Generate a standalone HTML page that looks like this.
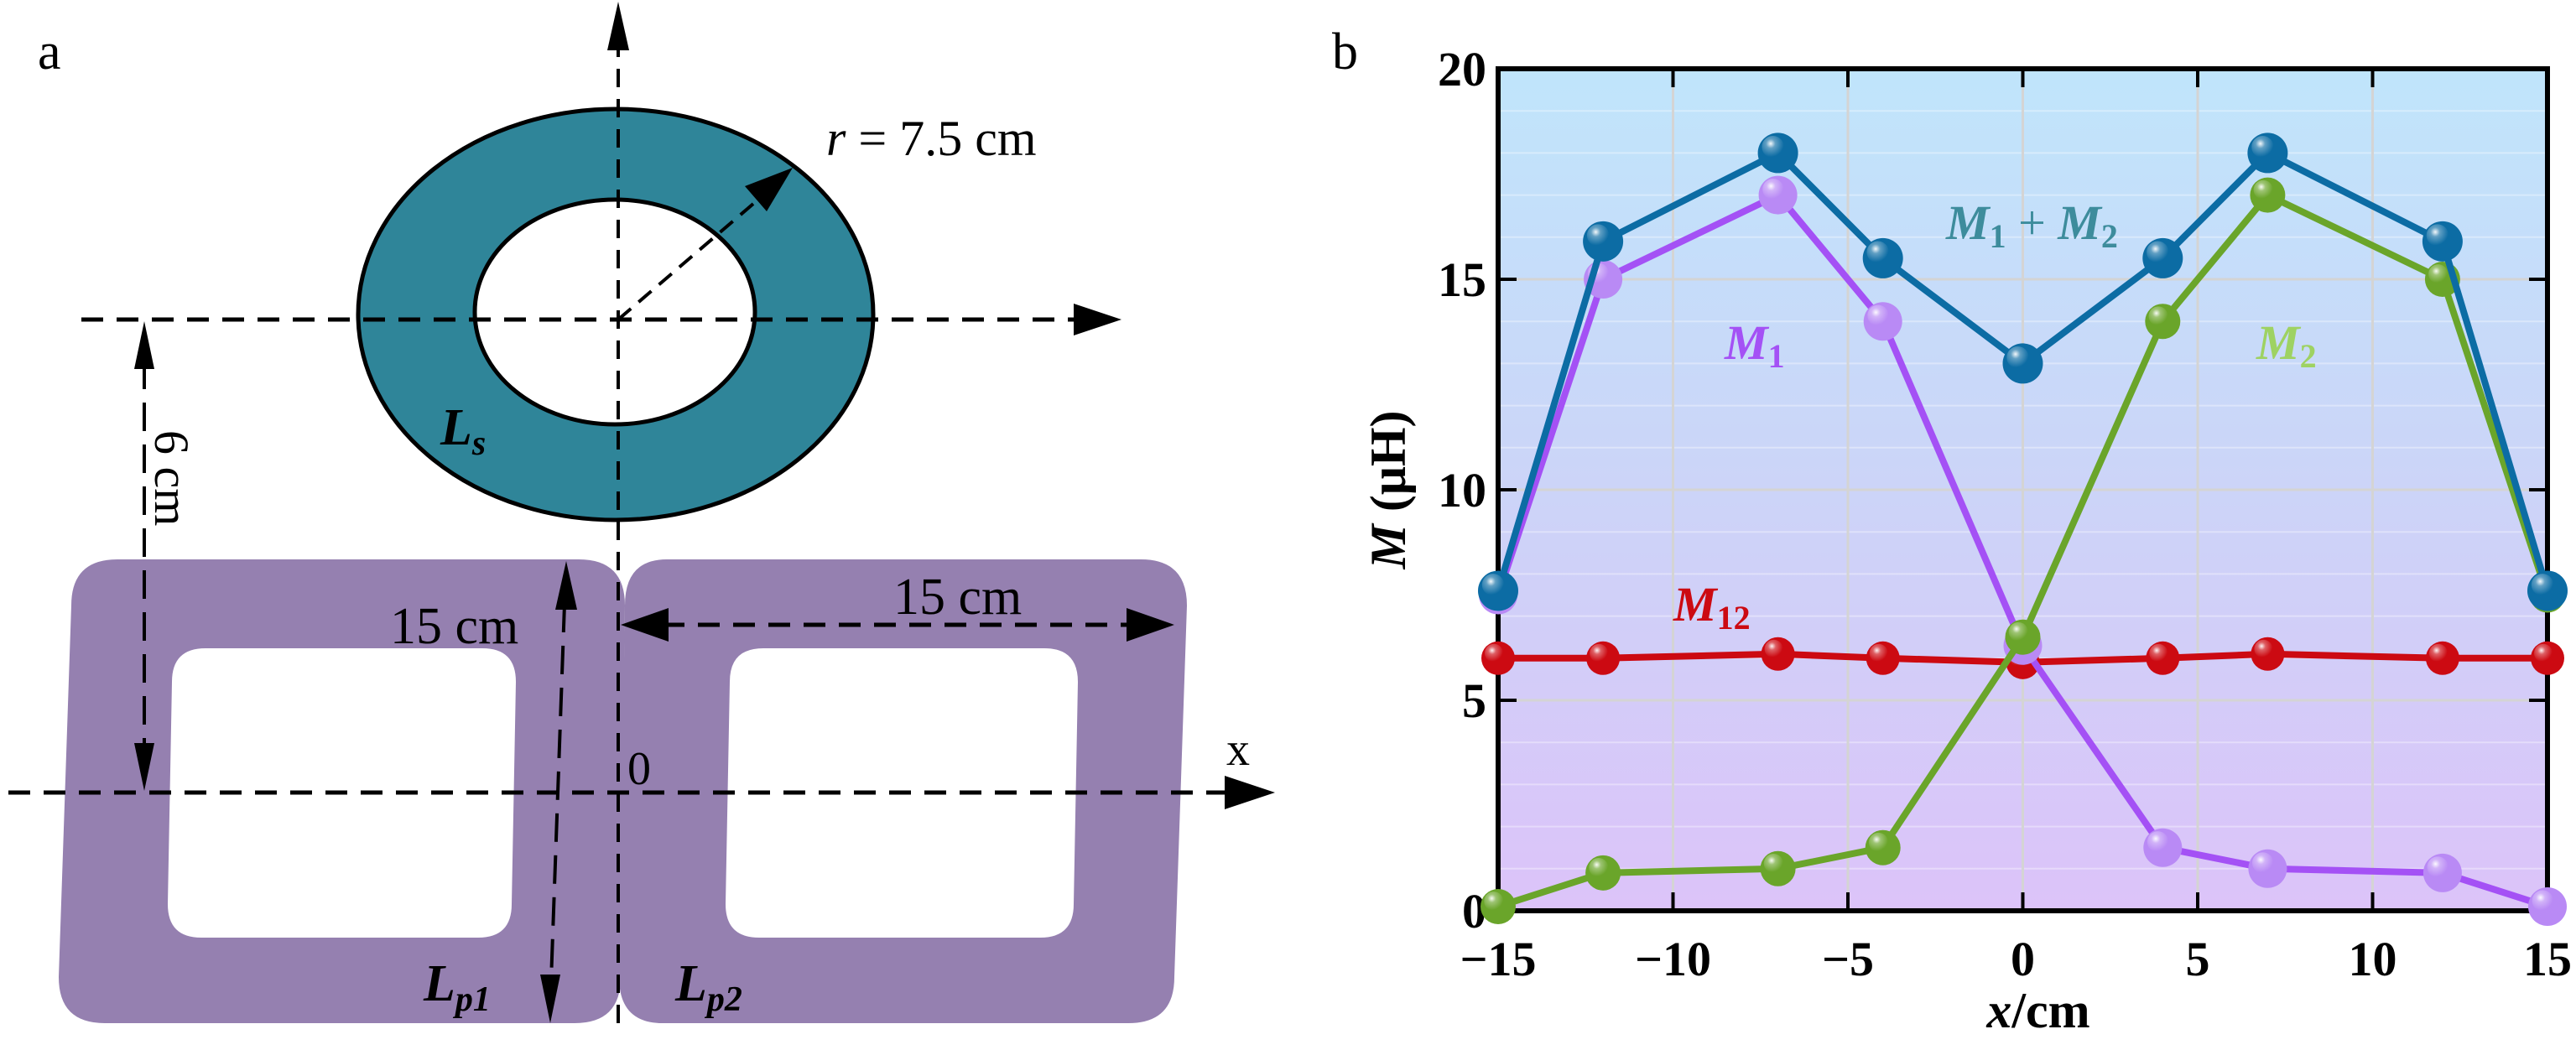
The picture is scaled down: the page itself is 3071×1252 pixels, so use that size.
<!DOCTYPE html>
<html><head><meta charset="utf-8"><style>
html,body{margin:0;padding:0;background:#fff;}
svg{display:block;font-family:"Liberation Serif",serif;}
</style></head><body>
<svg id="fig" width="3071" height="1252" viewBox="0 0 3071 1252" xmlns="http://www.w3.org/2000/svg">
<defs>
  <linearGradient id="bg" x1="0" y1="0" x2="0" y2="1">
    <stop offset="0" stop-color="#c0e5fb"/>
    <stop offset="0.5" stop-color="#ccd4f8"/>
    <stop offset="1" stop-color="#dcc3f9"/>
  </linearGradient>
  <radialGradient id="shine" cx="0.4" cy="0.35" r="0.6">
    <stop offset="0" stop-color="#fff" stop-opacity="0.95"/>
    <stop offset="0.35" stop-color="#fff" stop-opacity="0.35"/>
    <stop offset="1" stop-color="#fff" stop-opacity="0"/>
  </radialGradient>
</defs>

<!-- Panel a -->
<g>
  <text x="45" y="82" font-size="62">a</text>
  <path fill="#9580b0" fill-rule="evenodd"
    d="M140,667 L690,667 Q745,667 745,722 L740,1165 Q740,1220 685,1220 L125,1220 Q70,1220 70,1165 L85,722 Q85,667 140,667 Z
       M250,773 L575,773 Q615,773 615,813 L610,1078 Q610,1118 570,1118 L240,1118 Q200,1118 200,1078 L205,813 Q205,773 245,773 Z"/>
  <path fill="#9580b0" fill-rule="evenodd"
    d="M795,667 L1360,667 Q1415,667 1415,722 L1400,1165 Q1400,1220 1345,1220 L790,1220 Q738,1220 738,1165 L745,722 Q745,667 795,667 Z
       M915,773 L1245,773 Q1285,773 1285,813 L1280,1078 Q1280,1118 1240,1118 L905,1118 Q865,1118 865,1078 L870,813 Q870,773 910,773 Z"/>
  <path fill="#2f8599" stroke="#000" stroke-width="5" fill-rule="evenodd"
    d="M427,375 A307,245 0 1,0 1041,375 A307,245 0 1,0 427,375 Z M566,372 A167,134 0 1,1 900,372 A167,134 0 1,1 566,372 Z"/>
  <line x1="737" y1="1220" x2="737" y2="30" stroke="#000" stroke-width="4" stroke-dasharray="22,14"/>
  <path d="M737,2 L724,60 L750,60 Z" fill="#000"/>
  <line x1="97" y1="381" x2="1290" y2="381" stroke="#000" stroke-width="5" stroke-dasharray="26,16"/>
  <path d="M1337,381 L1280,362 L1280,400 Z" fill="#000"/>
  <line x1="10" y1="945" x2="1470" y2="945" stroke="#000" stroke-width="5" stroke-dasharray="26,16"/>
  <path d="M1520,945 L1460,925 L1460,965 Z" fill="#000"/>
  <text x="1462" y="912" font-size="56">x</text>
  <text x="748" y="935" font-size="56">0</text>
  <line x1="737" y1="381" x2="905" y2="237" stroke="#000" stroke-width="4" stroke-dasharray="20,12"/>
  <path d="M945,200 L888,222 L914,252 Z" fill="#000"/>
  <text x="985" y="185" font-size="60"><tspan font-style="italic">r</tspan> = 7.5 cm</text>
  <text x="525" y="530" font-size="62" font-weight="bold" font-style="italic">L<tspan font-size="42" dy="12">s</tspan></text>
  <line x1="172" y1="430" x2="172" y2="895" stroke="#000" stroke-width="4" stroke-dasharray="34,16"/>
  <path d="M172,383 L160,440 L184,440 Z" fill="#000"/>
  <path d="M172,943 L160,886 L184,886 Z" fill="#000"/>
  <text x="0" y="0" font-size="58" transform="translate(185,513) rotate(90)">6 cm</text>
  <line x1="673" y1="720" x2="657" y2="1170" stroke="#000" stroke-width="4" stroke-dasharray="34,16"/>
  <path d="M675,669 L662,727 L688,727 Z" fill="#000"/>
  <path d="M656,1220 L644,1162 L668,1162 Z" fill="#000"/>
  <text x="465" y="767" font-size="62">15 cm</text>
  <line x1="790" y1="745" x2="1350" y2="745" stroke="#000" stroke-width="5" stroke-dasharray="26,16"/>
  <path d="M740,745 L797,725 L797,765 Z" fill="#000"/>
  <path d="M1400,745 L1343,725 L1343,765 Z" fill="#000"/>
  <text x="1065" y="732" font-size="62">15 cm</text>
  <text x="505" y="1193" font-size="62" font-weight="bold" font-style="italic">L<tspan font-size="42" dy="12">p1</tspan></text>
  <text x="805" y="1193" font-size="62" font-weight="bold" font-style="italic">L<tspan font-size="42" dy="12">p2</tspan></text>
</g>

<text x="1588" y="82" font-size="62">b</text>
<g id="chart"></g>
</svg>
<script>
const xValues = [-15, -12, -7, -4, 0, 4, 7, 12, 15];
const sumValues = [7.6, 15.9, 18.0, 15.5, 13.0, 15.5, 18.0, 15.9, 7.6];
const m1Values = [7.5, 15.0, 17.0, 14.0, 6.3, 1.5, 1.0, 0.9, 0.1];
const m2Values = [0.1, 0.9, 1.0, 1.5, 6.5, 14.0, 17.0, 15.0, 7.5];
const m12Values = [6.0, 6.0, 6.1, 6.0, 5.9, 6.0, 6.1, 6.0, 6.0];
const xTicks = [-15, -10, -5, 0, 5, 10, 15];
const xTickLabels = ["\u221215", "\u221210", "\u22125", "0", "5", "10", "15"];
const yTicks = [0, 5, 10, 15, 20];
const yTickLabels = ["0", "5", "10", "15", "20"];

const NS = "http://www.w3.org/2000/svg";
const L = 1786, R = 3037, T = 82, B = 1086;
const xMin = -15, xMax = 15, yMin = 0, yMax = 20;
function sx(v){ return L + (v - xMin) / (xMax - xMin) * (R - L); }
function sy(v){ return B - (v - yMin) / (yMax - yMin) * (B - T); }
const g = document.getElementById('chart');
function mk(tag, attrs, parent){
  const e = document.createElementNS(NS, tag);
  for (const k in attrs) e.setAttribute(k, attrs[k]);
  (parent || g).appendChild(e);
  return e;
}
let e;
e = mk('rect', {x:L, y:T, width:R-L, height:B-T, fill:'url(#bg)'});


for (let k = 1; k < 20; k++) {
  e = mk('line', {x1:L, x2:R, y1:sy(k), y2:sy(k), stroke:'#ffffff', 'stroke-opacity':0.35, 'stroke-width':2});
  
  
}
xTicks.forEach(t => {
  e = mk('line', {x1:sx(t), x2:sx(t), y1:T, y2:B, stroke:'#d4d4d4', 'stroke-width':3});
  
  
});
yTicks.forEach(t => {
  e = mk('line', {x1:L, x2:R, y1:sy(t), y2:sy(t), stroke:'#d4d4d4', 'stroke-width':3});
  
  
});
xTicks.forEach((t, i) => {
  e = mk('line', {x1:sx(t), x2:sx(t), y1:B, y2:B-22, stroke:'#000', 'stroke-width':4});
  
  
  e = mk('line', {x1:sx(t), x2:sx(t), y1:T, y2:T+22, stroke:'#000', 'stroke-width':4});
  
  
  e = mk('text', {x:sx(t), y:1163, 'font-size':58, 'font-weight':'bold', 'text-anchor':'middle'});
  e.textContent = xTickLabels[i];
  
  
});
yTicks.forEach((t, i) => {
  e = mk('line', {x1:L, x2:L+22, y1:sy(t), y2:sy(t), stroke:'#000', 'stroke-width':4});
  
  
  e = mk('line', {x1:R, x2:R-22, y1:sy(t), y2:sy(t), stroke:'#000', 'stroke-width':4});
  
  
  e = mk('text', {x:L-14, y:sy(t)+20, 'font-size':58, 'font-weight':'bold', 'text-anchor':'end'});
  e.textContent = yTickLabels[i];
  
  
});
e = mk('rect', {x:L, y:T, width:R-L, height:B-T, fill:'none', stroke:'#000', 'stroke-width':6});



function series(vals, lineColor, markColor, r, name){
  const pts = vals.map((v, i) => sx(xValues[i]) + ',' + sy(v)).join(' ');
  e = mk('polyline', {points:pts, fill:'none', stroke:lineColor, 'stroke-width':8, 'stroke-linejoin':'round'});
  
  
  vals.forEach((v, i) => {
    e = mk('circle', {cx:sx(xValues[i]), cy:sy(v), r:r, fill:markColor});
    
    
    e = mk('circle', {cx:sx(xValues[i]) - r*0.25, cy:sy(v) - r*0.3, r:r*0.55, fill:'url(#shine)'});
    
    
  });
}
series(m12Values, '#cc0a12', '#cc0a12', 20, 'm12');
series(m1Values, '#a451f5', '#b98af5', 23, 'm1');
series(m2Values, '#6aa52a', '#6aa52a', 21, 'm2');
series(sumValues, '#0c6ca4', '#0c6ca4', 24, 'm1-plus-m2');

function label(x, y, color, html, name){
  e = mk('text', {x:x, y:y, 'font-size':58, 'font-weight':'bold', 'font-style':'italic', fill:color});
  e.innerHTML = html;
  
  
}
label(2320, 285, '#3d8c9c', 'M<tspan font-size="40" dy="10" font-style="normal">1</tspan><tspan dy="-10" font-style="normal" font-weight="normal"> + </tspan>M<tspan font-size="40" dy="10" font-style="normal">2</tspan>', 'm1-plus-m2-label');
label(2056, 428, '#a451f5', 'M<tspan font-size="40" dy="10" font-style="normal">1</tspan>', 'm1-label');
label(2690, 428, '#9ed262', 'M<tspan font-size="40" dy="10" font-style="normal">2</tspan>', 'm2-label');
label(1995, 740, '#cc0a12', 'M<tspan font-size="40" dy="10" font-style="normal">12</tspan>', 'm12-label');

e = mk('text', {x:2430, y:1225, 'font-size':60, 'font-weight':'bold', 'text-anchor':'middle'});
e.innerHTML = '<tspan font-style="italic">x</tspan>/cm';


e = mk('text', {x:0, y:0, 'font-size':60, 'font-weight':'bold', 'text-anchor':'middle', transform:'translate(1675,' + ((T+B)/2) + ') rotate(-90)'});
e.innerHTML = '<tspan font-style="italic">M</tspan> (μH)';


</script>
</body></html>
